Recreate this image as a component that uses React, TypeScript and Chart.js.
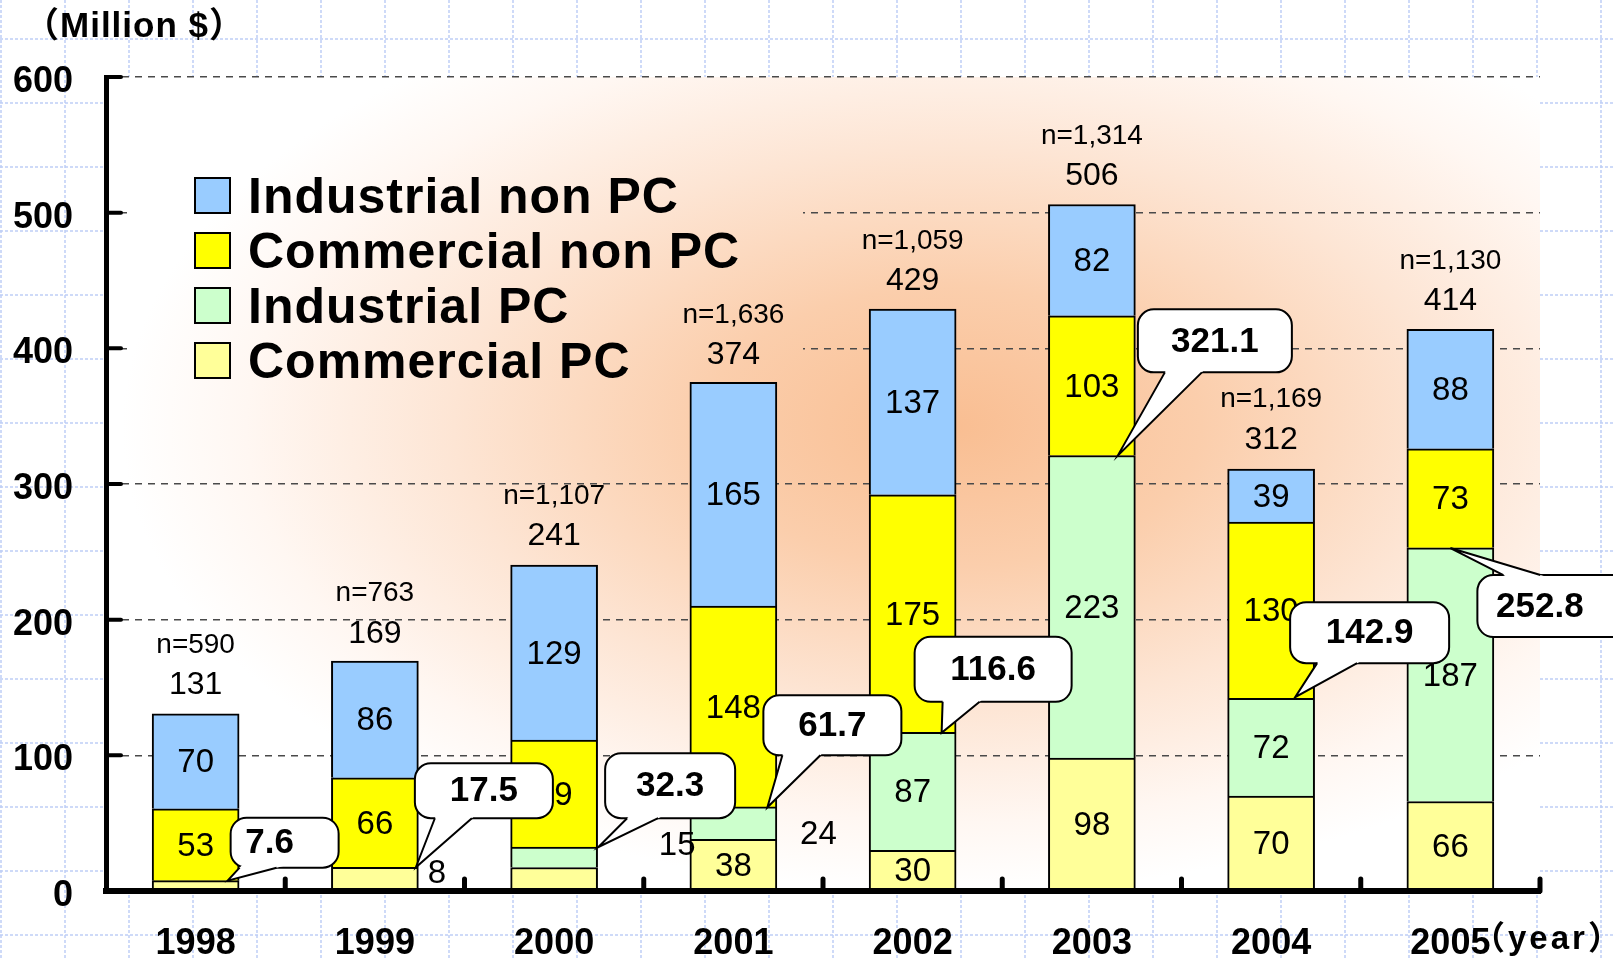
import React, { useEffect, useRef } from 'react';
import { Chart, registerables } from 'chart.js';

Chart.register(...registerables);

// ---------------- data ----------------
const years = ['1998', '1999', '2000', '2001', '2002', '2003', '2004', '2005'];
const commercialPC = [7.6, 17.5, 17.3, 38, 30, 98, 70, 66];
const industrialPC = [0, 0, 15, 24, 87, 223, 72, 187];
const commercialNonPC = [53, 66, 79, 148, 175, 103, 130, 73];
const industrialNonPC = [70, 86, 129, 165, 137, 82, 39, 88];
const totals = [131, 169, 241, 374, 429, 506, 312, 414];
const pcTotals = [7.6, 17.5, 32.3, 61.7, 116.6, 321.1, 142.9, 252.8];
const sampleSizes = ['n=590', 'n=763', 'n=1,107', 'n=1,636', 'n=1,059', 'n=1,314', 'n=1,169', 'n=1,130'];
const outsideLabels = ['', '8', '15', '24', '', '', '', ''];
const yAxisTitle = '（Million $）';
const xAxisTitle = '（year）';

// ---------------- layout / style ----------------
const W = 1613;
const H = 960;
const FONT = '"Liberation Sans", Arial, sans-serif';
const CJK = '"Liberation Sans", "Noto Sans CJK JP", sans-serif';

const COLORS = {
  industrialNonPC: '#99CCFF',
  commercialNonPC: '#FFFF00',
  industrialPC: '#CCFFCC',
  commercialPC: '#FFFF99',
};

// callout geometry relative to the tip (tip = bar centre + tipDx, value pcTotals)
const CALLOUTS = [
  { tipDx: 32, bx: 3, by: -63, w: 108, h: 50, b0: 9, b1: 46, side: 'bottom', tdx: -15 },
  { tipDx: 41, bx: -1, by: -104, w: 138, h: 55, b0: 20, b1: 57, side: 'bottom', tdx: 0 },
  { tipDx: 44, bx: 7, by: -94, w: 130, h: 65, b0: 22, b1: 53, side: 'bottom', tdx: 0 },
  { tipDx: 34, bx: -4, by: -112, w: 138, h: 60, b0: 19, b1: 57, side: 'bottom', tdx: 0 },
  { tipDx: 29, bx: -27, by: -96, w: 157, h: 65, b0: 28, b1: 65, side: 'bottom', tdx: 0 },
  { tipDx: 26, bx: 20, by: -146, w: 154, h: 63, b0: 27, b1: 64, side: 'bottom', tdx: 0 },
  { tipDx: 24, bx: -5, by: -95, w: 159, h: 61, b0: 27, b1: 67, side: 'bottom', tdx: 0 },
  { tipDx: 0, bx: 27, by: 27, w: 163, h: 62, b0: 26, b1: 63, side: 'top', tdx: -19 },
];

const OUTSIDE_POS = [null, { dx: 62, dy: -17 }, { dx: 123, dy: -45 }, { dx: 85, dy: -56 }, null, null, null, null];

const LEGEND_BOX = { x: 127, y: 160, w: 676, h: 232 };

function fillGradient(ctx: CanvasRenderingContext2D, area: any, clip: { x: number; y: number; w: number; h: number }) {
  ctx.save();
  ctx.beginPath();
  ctx.rect(clip.x, clip.y, clip.w, clip.h);
  ctx.clip();
  const cx = area.left + (area.right - area.left) * 0.59;
  const cy = area.top + (area.bottom - area.top) * 0.43;
  ctx.translate(cx, cy);
  ctx.scale(1, 0.56);
  const R = 830;
  const g = ctx.createRadialGradient(0, 0, 0, 0, 0, R);
  g.addColorStop(0, '#F9BE92');
  g.addColorStop(0.3, '#FBCEAC');
  g.addColorStop(0.6, '#FDE5D4');
  g.addColorStop(0.85, '#FFF7F2');
  g.addColorStop(1, '#FFFFFF');
  ctx.fillStyle = g;
  ctx.fillRect(-4000, -4000, 8000, 8000);
  ctx.restore();
}

function drawCallout(ctx: CanvasRenderingContext2D, tipX: number, tipY: number, c: any, text: string) {
  const bx = tipX + c.bx;
  const by = tipY + c.by;
  ctx.save();
  ctx.lineWidth = 2;
  ctx.strokeStyle = '#000';
  ctx.fillStyle = '#fff';
  ctx.beginPath();
  (ctx as any).roundRect(bx, by, c.w, c.h, 16);
  ctx.fill();
  ctx.stroke();
  const baseY = c.side === 'bottom' ? by + c.h : by;
  const p0 = { x: bx + c.b0, y: baseY };
  const p1 = { x: bx + c.b1, y: baseY };
  const ext = (p: any) => {
    const dy = p.y - tipY;
    const k = 1 + 4 / Math.abs(dy);
    return { x: tipX + (p.x - tipX) * k, y: tipY + dy * k };
  };
  const e0 = ext(p0);
  const e1 = ext(p1);
  ctx.beginPath();
  ctx.moveTo(tipX, tipY);
  ctx.lineTo(e0.x, e0.y);
  ctx.lineTo(e1.x, e1.y);
  ctx.closePath();
  ctx.fill();
  ctx.beginPath();
  ctx.moveTo(p0.x, p0.y);
  ctx.lineTo(tipX, tipY);
  ctx.lineTo(p1.x, p1.y);
  ctx.stroke();
  ctx.fillStyle = '#000';
  ctx.font = `bold 35px ${FONT}`;
  ctx.textAlign = 'center';
  ctx.textBaseline = 'middle';
  ctx.fillText(text, bx + c.w / 2 + c.tdx, by + c.h / 2 + 1);
  ctx.restore();
}

const customPlugin = {
  id: 'custom',
  beforeDraw(chart: any) {
    const ctx: CanvasRenderingContext2D = chart.ctx;
    const area = chart.chartArea;
    ctx.save();
    ctx.fillStyle = '#fff';
    ctx.fillRect(0, 0, W, H);
    ctx.strokeStyle = 'rgba(190, 205, 245, 0.75)';
    ctx.lineWidth = 2;
    ctx.setLineDash([3, 2]);
    for (let x = 1; x < W; x += 64) {
      ctx.beginPath();
      ctx.moveTo(x, 0);
      ctx.lineTo(x, H);
      ctx.stroke();
    }
    for (let y = 39; y < H; y += 64) {
      ctx.beginPath();
      ctx.moveTo(0, y);
      ctx.lineTo(W, y);
      ctx.stroke();
    }
    ctx.restore();
    fillGradient(ctx, area, { x: area.left, y: area.top, w: area.right - area.left, h: area.bottom - area.top });
  },
  beforeDatasetsDraw(chart: any) {
    const ctx: CanvasRenderingContext2D = chart.ctx;
    const area = chart.chartArea;
    fillGradient(ctx, area, LEGEND_BOX);
    // legend
    const ds = chart.data.datasets.slice().reverse();
    ctx.save();
    ds.forEach((d: any, k: number) => {
      const cy = 195 + k * 55;
      ctx.fillStyle = d.backgroundColor;
      ctx.fillRect(195, cy - 17, 35, 35);
      ctx.lineWidth = 2;
      ctx.strokeStyle = '#000';
      ctx.strokeRect(195, cy - 17, 35, 35);
      ctx.fillStyle = '#000';
      ctx.font = `bold 50px ${FONT}`;
      (ctx as any).letterSpacing = '1px';
      ctx.textAlign = 'left';
      ctx.textBaseline = 'alphabetic';
      ctx.fillText(d.label, 248, cy + 18);
    });
    ctx.restore();
  },
  afterDatasetsDraw(chart: any) {
    const ctx: CanvasRenderingContext2D = chart.ctx;
    const yScale = chart.scales.y;
    const xScale = chart.scales.x;
    ctx.save();
    ctx.fillStyle = '#000';
    ctx.textAlign = 'center';
    ctx.textBaseline = 'middle';
    // segment labels
    ctx.font = `33px ${FONT}`;
    chart.data.datasets.forEach((d: any, di: number) => {
      const meta = chart.getDatasetMeta(di);
      d.data.forEach((v: number, i: number) => {
        if (!v || v < 25) return;
        const el = meta.data[i];
        ctx.fillText(String(Math.round(v)), el.x, (el.y + el.base) / 2 + 2);
      });
    });
    // outside labels
    outsideLabels.forEach((t, i) => {
      const p = OUTSIDE_POS[i];
      if (!t || !p) return;
      ctx.fillText(t, xScale.getPixelForValue(i) + p.dx, yScale.getPixelForValue(0) + p.dy);
    });
    // totals and n
    totals.forEach((t, i) => {
      const x = xScale.getPixelForValue(i);
      const y = yScale.getPixelForValue(t);
      ctx.font = `32px ${FONT}`;
      ctx.fillText(String(t), x, y - 28);
      ctx.font = `28px ${FONT}`;
      ctx.fillText(sampleSizes[i], x, y - 68);
    });
    ctx.restore();
    // callouts
    pcTotals.forEach((v, i) => {
      const c = CALLOUTS[i];
      const tipX = xScale.getPixelForValue(i) + c.tipDx;
      const tipY = yScale.getPixelForValue(v);
      drawCallout(ctx, tipX, tipY, c, v.toFixed(1));
    });
  },
  afterDraw(chart: any) {
    const ctx: CanvasRenderingContext2D = chart.ctx;
    const yScale = chart.scales.y;
    const xScale = chart.scales.x;
    const area = chart.chartArea;
    ctx.save();
    ctx.strokeStyle = '#000';
    ctx.lineCap = 'round';
    // y ticks (inward)
    ctx.lineWidth = 4;
    yScale.ticks.forEach((t: any) => {
      if (t.value === 0) return;
      const y = yScale.getPixelForValue(t.value);
      ctx.beginPath();
      ctx.moveTo(area.left, y);
      ctx.lineTo(area.left + 15, y);
      ctx.stroke();
    });
    // x ticks (inward) at category boundaries
    ctx.lineWidth = 5;
    for (let i = 1; i <= years.length; i++) {
      const x = i < years.length
        ? (xScale.getPixelForValue(i - 1) + xScale.getPixelForValue(i)) / 2
        : area.right;
      ctx.beginPath();
      ctx.moveTo(x, area.bottom);
      ctx.lineTo(x, area.bottom - 12);
      ctx.stroke();
    }
    // titles
    ctx.fillStyle = '#000';
    ctx.textBaseline = 'alphabetic';
    ctx.textAlign = 'left';
    ctx.font = `bold 35px ${CJK}`;
    (ctx as any).letterSpacing = '1px';
    ctx.fillText(yAxisTitle, 24, 37);
    ctx.font = `bold 33px ${CJK}`;
    (ctx as any).letterSpacing = '3px';
    ctx.fillText(xAxisTitle, 1472, 949);
    ctx.restore();
  },
};

const datasetBase = { borderColor: '#000', borderWidth: 2, barThickness: 87, borderSkipped: 'start' as const };

export default function App() {
  const ref = useRef<HTMLCanvasElement>(null);
  useEffect(() => {
    document.body.style.margin = '0';
    const chart = new Chart(ref.current as HTMLCanvasElement, {
      type: 'bar',
      data: {
        labels: years,
        datasets: [
          { ...datasetBase, label: 'Commercial PC', data: commercialPC, backgroundColor: COLORS.commercialPC },
          { ...datasetBase, label: 'Industrial PC', data: industrialPC, backgroundColor: COLORS.industrialPC },
          { ...datasetBase, label: 'Commercial non PC', data: commercialNonPC, backgroundColor: COLORS.commercialNonPC },
          { ...datasetBase, label: 'Industrial non PC', data: industrialNonPC, backgroundColor: COLORS.industrialNonPC },
        ],
      },
      options: {
        animation: false,
        responsive: false,
        devicePixelRatio: 1,
        layout: { padding: { left: 0, top: 77, right: 73, bottom: 0 } },
        plugins: { legend: { display: false }, tooltip: { enabled: false } },
        scales: {
          x: {
            stacked: true,
            grid: { display: false, drawTicks: false },
            border: { display: true, color: '#000', width: 6, z: 1 },
            ticks: { color: '#000', font: { family: FONT, size: 36, weight: 'bold' }, padding: 31, maxRotation: 0, autoSkip: false },
            afterFit: (s: any) => { s.height = 69; },
          },
          y: {
            stacked: true,
            min: 0,
            max: 600,
            grid: {
              drawTicks: false,
              lineWidth: 1.5,
              color: (c: any) => (c.tick && c.tick.value === 0 ? 'rgba(0,0,0,0)' : '#4a4a4a'),
            },
            border: { display: true, color: '#000', width: 5, z: 1, dash: [7, 6] },
            ticks: { stepSize: 100, color: '#000', font: { family: FONT, size: 36, weight: 'bold' }, padding: 33, labelOffset: 5 },
            afterFit: (s: any) => { s.width = 106; },
          },
        },
      },
      plugins: [customPlugin],
    } as any);
    return () => chart.destroy();
  }, []);
  return (
    <div style={{ position: 'absolute', left: 0, top: 0, width: W, height: H }}>
      <canvas ref={ref} width={W} height={H} style={{ width: W, height: H, display: 'block' }} />
    </div>
  );
}
